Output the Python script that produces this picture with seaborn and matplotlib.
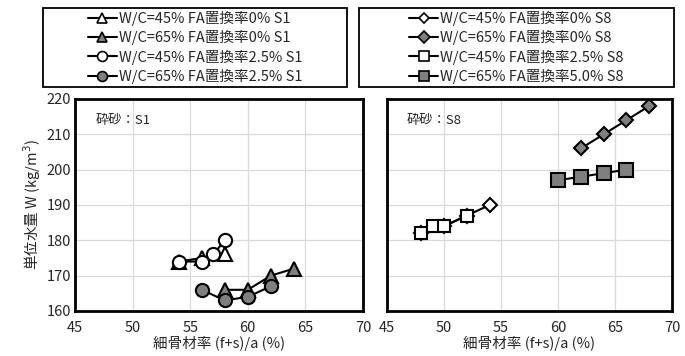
import matplotlib
matplotlib.use("Agg")
import matplotlib.pyplot as plt
import seaborn as sns
from matplotlib.patches import Rectangle
from matplotlib.lines import Line2D

# --- données ---
s1_labels = ["W/C=45% FA置換率0% S1", "W/C=65% FA置換率0% S1",
             "W/C=45% FA置換率2.5% S1", "W/C=65% FA置換率2.5% S1"]
s1_x = [[54, 56, 58], [58, 60, 62, 64], [54, 56, 57, 58], [56, 58, 60, 62]]
s1_y = [[174, 175, 176], [166, 166, 170, 172], [174, 174, 176, 180], [166, 163, 164, 167]]

s8_labels = ["W/C=45% FA置換率0% S8", "W/C=65% FA置換率0% S8",
             "W/C=45% FA置換率2.5% S8", "W/C=65% FA置換率5.0% S8"]
s8_x = [[48, 50, 52, 54], [62, 64, 66, 68], [48, 49, 50, 52], [60, 62, 64, 66]]
s8_y = [[182, 184, 187, 190], [206, 210, 214, 218], [182, 184, 184, 187], [197, 198, 199, 200]]

xticks = [45, 50, 55, 60, 65, 70]
yticks = [160, 170, 180, 190, 200, 210, 220]

sns.set_style("white")
plt.rcParams['font.family'] = ['Noto Sans CJK JP', 'DejaVu Sans']

GRAY = "#7f7f7f"
s1_styles = [("^", "white", 9.5), ("^", GRAY, 9.5), ("o", "white", 9.5), ("o", GRAY, 9.5)]
s8_styles = [("D", "white", 7), ("D", GRAY, 7.5), ("s", "white", 9), ("s", GRAY, 9.5)]

fig = plt.figure(figsize=(6.85, 3.56), dpi=100)
ax1 = fig.add_axes([75 / 685, 1 - 311 / 356, 288 / 685, 212 / 356])
ax2 = fig.add_axes([387 / 685, 1 - 311 / 356, 285 / 685, 212 / 356])


def draw(ax, xs, ys, styles, tag):
    handles = []
    for x, y, (m, fc, ms) in zip(xs, ys, styles):
        sns.lineplot(x=x, y=y, ax=ax, color="black", lw=1.5, marker=m,
                     markersize=ms, markerfacecolor=fc, markeredgecolor="black",
                     markeredgewidth=1.5, sort=False)
        handles.append(Line2D([], [], color="black", lw=1.5, marker=m,
                              markersize=ms * 0.75, markerfacecolor=fc,
                              markeredgecolor="black", markeredgewidth=1.2))
    ax.set_xlim(45, 70)
    ax.set_ylim(160, 220)
    ax.set_xticks(xticks)
    ax.set_yticks(yticks)
    ax.grid(True, color="#d9d9d9", lw=0.9)
    for sp in ax.spines.values():
        sp.set_color("black")
        sp.set_linewidth(2)
    ax.tick_params(axis="x", length=0, labelsize=10.5, pad=7)
    ax.tick_params(axis="y", length=0, labelsize=10.5, pad=3)
    ax.set_xlabel("細骨材率 (f+s)/a (%)", fontsize=10.5, labelpad=1)
    ax.text(0.07, 0.88, tag, transform=ax.transAxes, fontsize=9.5)
    return handles


h1 = draw(ax1, s1_x, s1_y, s1_styles, "砕砂：S1")
h2 = draw(ax2, s8_x, s8_y, s8_styles, "砕砂：S8")
ax1.set_ylabel("単位水量 W (kg/m$^3$)", fontsize=10.5, labelpad=2)
ax2.set_yticklabels([])

# légendes dans des cadres
for handles, labels, (x0, x1) in [(h1, s1_labels, (43, 347)), (h2, s8_labels, (359, 674))]:
    cx = (x0 + x1) / 2 / 685
    fig.legend(handles, labels, loc="center", bbox_to_anchor=(cx, 1 - 47.5 / 356),
               frameon=False, fontsize=10.5, handlelength=2.0, handletextpad=0.15,
               labelspacing=0.28, borderpad=0)
    fig.patches.append(Rectangle((x0 / 685, 1 - 87 / 356), (x1 - x0) / 685, 79 / 356,
                                 transform=fig.transFigure, fill=False,
                                 edgecolor="black", lw=1.3))

fig.savefig("out.png", dpi=100)
